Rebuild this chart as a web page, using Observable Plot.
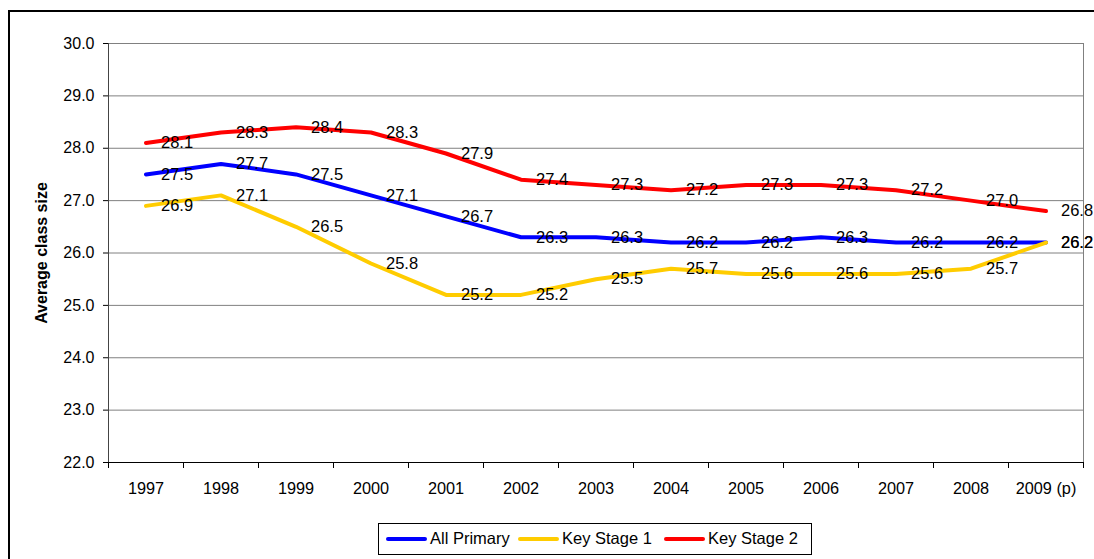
<!DOCTYPE html>
<html><head><meta charset="utf-8">
<script src="https://cdn.jsdelivr.net/npm/d3@7"></script>
<script src="https://cdn.jsdelivr.net/npm/@observablehq/plot@0.6"></script>
<style>
body{margin:0;background:#fff;font-family:"Liberation Sans",Arial,sans-serif;}
#wrap{position:relative;width:1094px;height:559px;overflow:hidden;}
#frame{position:absolute;left:8px;top:10px;width:1100px;height:560px;border:2px solid #000;box-sizing:border-box;}
#chart{position:absolute;left:0;top:0;}
#legend{position:absolute;left:378px;top:523px;width:434px;height:32px;border:1px solid #000;box-sizing:border-box;font-size:16.5px;}
.sw{position:absolute;top:13px;height:4px;border-radius:2px;width:41px;}
.lt{position:absolute;top:5px;white-space:nowrap;}
g[aria-label="y-axis label"] text{font-weight:bold;}
</style></head>
<body><div id="wrap"><div id="frame"></div><div id="chart"></div>
<div id="legend"></div></div>
<script>
const years = [1997,1998,1999,2000,2001,2002,2003,2004,2005,2006,2007,2008,2009];
const yearLabels = ["1997","1998","1999","2000","2001","2002","2003","2004","2005","2006","2007","2008","2009 (p)"];
const seriesNames = ["All Primary","Key Stage 1","Key Stage 2"];
const seriesColors = ["#0000FF","#FFCC00","#FF0000"];
const allPrimary = [27.5,27.7,27.5,27.1,26.7,26.3,26.3,26.2,26.2,26.3,26.2,26.2,26.2];
const keyStage1 = [26.9,27.1,26.5,25.8,25.2,25.2,25.5,25.7,25.6,25.6,25.6,25.7,26.2];
const keyStage2 = [28.1,28.3,28.4,28.3,27.9,27.4,27.3,27.2,27.3,27.3,27.2,27.0,26.8];
const yTicks = [22,23,24,25,26,27,28,29,30];

const seriesValues = [allPrimary, keyStage1, keyStage2];
const data = [];
seriesNames.forEach((s,i)=>years.forEach((yr,j)=>data.push({series:s, year:yr, value:seriesValues[i][j]})));
const bounds = d3.range(years.length+1).map(i=>years[0]-0.5+i);

const chart = Plot.plot({
  width:1094, height:510,
  marginLeft:108, marginRight:11, marginTop:43, marginBottom:48,
  style:{fontFamily:"Liberation Sans, Arial, sans-serif", fontSize:"16px", color:"#000", background:"transparent"},
  x:{domain:[years[0]-0.5, years[years.length-1]+0.5]},
  y:{domain:[22,30]},
  color:{domain:seriesNames, range:seriesColors},
  marks:[
    Plot.ruleY(yTicks,{stroke:"#808080", strokeWidth:1}),
    Plot.ruleX([years[years.length-1]+0.5],{stroke:"#808080", strokeWidth:1}),
    Plot.ruleX(bounds,{y1:22, y2:22, insetBottom:-6, stroke:"#000"}),
    Plot.axisY({ticks:yTicks, tickFormat:d=>d.toFixed(1), tickSize:5, tickPadding:9, label:"Average class size", labelAnchor:"center", labelArrow:"none", labelOffset:73, fontSize:16}),
    Plot.axisX({ticks:years, tickFormat:d=>yearLabels[years.indexOf(d)], tickSize:0, tickPadding:20, label:null, fontSize:16.3}),
    Plot.ruleX([years[0]-0.5],{stroke:"#444"}),
    Plot.ruleY([22],{stroke:"#000"}),
    Plot.line(data,{x:"year", y:"value", z:"series", stroke:"series", strokeWidth:4, curve:"linear"}),
    Plot.text(data,{x:"year", y:"value", text:d=>d.value.toFixed(1), dx:15, textAnchor:"start", fontSize:16.5, fill:"#000"})
  ]
});
document.getElementById("chart").appendChild(chart);
const leg = document.getElementById("legend");
const swX = [7, 139, 285];
const txX = [51, 183, 329];
seriesNames.forEach((s,i)=>{
  const sw=document.createElement("div");sw.className="sw";sw.style.left=swX[i]+"px";sw.style.background=seriesColors[i];
  const t=document.createElement("div");t.className="lt";t.style.left=txX[i]+"px";t.textContent=s;
  leg.appendChild(sw);leg.appendChild(t);
});
</script></body></html>
